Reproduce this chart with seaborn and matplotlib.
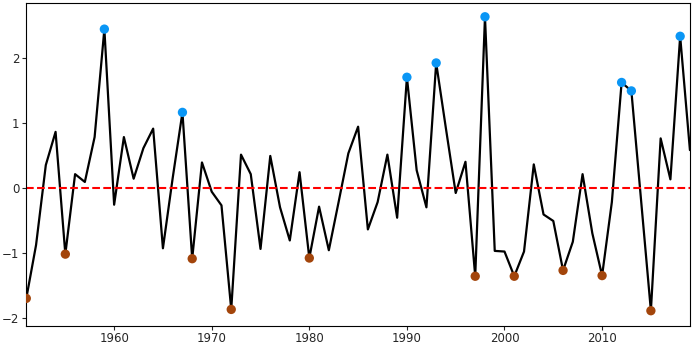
import numpy as np
import pandas as pd
import matplotlib
matplotlib.use('Agg')
import matplotlib.pyplot as plt
import seaborn as sns

years = list(range(1951, 2020))
values = [
    -1.70, -0.88, 0.35, 0.86, -1.02, 0.21, 0.09, 0.78, 2.44, -0.26,
    0.78, 0.14, 0.61, 0.91, -0.93, 0.15, 1.16, -1.09, 0.39, -0.06,
    -0.27, -1.87, 0.51, 0.21, -0.94, 0.49, -0.30, -0.81, 0.24, -1.08,
    -0.29, -0.96, -0.22, 0.53, 0.94, -0.64, -0.22, 0.51, -0.46, 1.70,
    0.27, -0.30, 1.92, 0.91, -0.08, 0.40, -1.36, 2.63, -0.97, -0.98,
    -1.36, -0.98, 0.36, -0.41, -0.51, -1.27, -0.83, 0.21, -0.70, -1.35,
    -0.22, 1.62, 1.49, -0.20, -1.89, 0.76, 0.13, 2.33, 0.58,
]
threshold = 1.0

df = pd.DataFrame({'year': years, 'value': values})
high = df[df['value'] > threshold]
low = df[df['value'] < -threshold]

sns.set_style('ticks')
plt.rcParams['font.family'] = ['DejaVu Sans']

fig, ax = plt.subplots(figsize=(6.92, 3.45), dpi=100)
fig.subplots_adjust(left=0.038, right=0.997, top=0.991, bottom=0.056)

sns.lineplot(data=df, x='year', y='value', color='black', linewidth=1.6, ax=ax)
ax.axhline(0, color='red', linestyle='--', linewidth=1.5)
sns.scatterplot(data=high, x='year', y='value', color='#0a96f5', s=45,
                edgecolor='none', zorder=5, ax=ax)
sns.scatterplot(data=low, x='year', y='value', color='#a3450b', s=45,
                edgecolor='none', zorder=5, ax=ax)

ax.set_xlim(1951, 2019)
ax.set_ylim(-2.12, 2.84)
ax.set_xticks([1960, 1970, 1980, 1990, 2000, 2010])
ax.set_yticks([-2, -1, 0, 1, 2])
ax.set_xlabel('')
ax.set_ylabel('')
ax.tick_params(labelsize=8.5, length=3, width=0.8)
ax.tick_params(axis='x', pad=1.5)
ax.tick_params(axis='y', pad=2)
for s in ax.spines.values():
    s.set_visible(True)
    s.set_linewidth(0.8)
    s.set_color('black')

fig.savefig('out.png', dpi=100)
